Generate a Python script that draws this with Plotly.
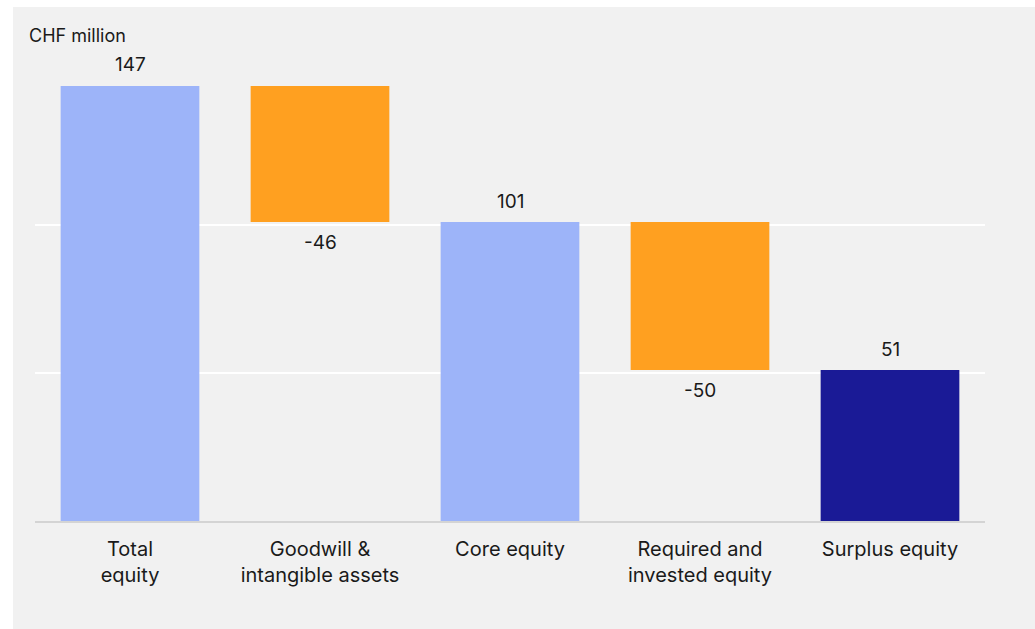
import plotly.graph_objects as go

categories = ["Total<br>equity", "Goodwill &<br>intangible assets", "Core equity",
              "Required and<br>invested equity", "Surplus equity"]
values = [147, -46, 101, -50, 51]
bases = [0, 147, 0, 101, 0]
labels = ["147", "-46", "101", "-50", "51"]
colors = ["#9db4f9", "#ffa020", "#9db4f9", "#ffa020", "#1a1a96"]

fig = go.Figure()
fig.add_trace(go.Bar(x=categories, y=values, base=bases, marker=dict(color=colors, line=dict(width=0)),
                     width=0.73, hoverinfo="skip"))

for c, v, b, t in zip(categories, values, bases, labels):
    end = b + v
    fig.add_annotation(x=c, y=end, text=t, showarrow=False, yanchor="middle",
                       yshift=21 if v > 0 else -20,
                       font=dict(family="Inter, sans-serif", size=19, color="#1a1a1a"))

L, R, T, B = 35, 50, 60, 108
W, H = 1035, 629
pw, ph = W - L - R, H - T - B
fig.add_shape(type="rect", xref="paper", yref="paper", layer="below",
              x0=(13 - L) / pw, x1=(W - L) / pw, y0=(H - B - H) / ph, y1=(H - B - 7) / ph,
              fillcolor="#f1f1f1", line=dict(width=0))
fig.add_annotation(xref="paper", yref="paper", x=(27 - L) / pw, y=(H - B - 35) / ph,
                   xanchor="left", yanchor="middle", showarrow=False, text="CHF million",
                   font=dict(family="Inter, sans-serif", size=18, color="#1a1a1a"))

fig.update_layout(
    width=W, height=H, margin=dict(l=L, r=R, t=T, b=B),
    paper_bgcolor="white", plot_bgcolor="rgba(0,0,0,0)", showlegend=False,
    font=dict(family="Inter, sans-serif", size=20, color="#1a1a1a"),
    xaxis=dict(showgrid=False, showline=True, linecolor="#d4d4d4", linewidth=2,
               ticks="outside", ticklen=9, tickcolor="rgba(0,0,0,0)", tickfont=dict(size=20)),
    yaxis=dict(range=[0, ph / 2.96], tickvals=[50, 100], showticklabels=False,
               gridcolor="white", gridwidth=1.5, zeroline=False),
)
fig.write_html("out.html")
